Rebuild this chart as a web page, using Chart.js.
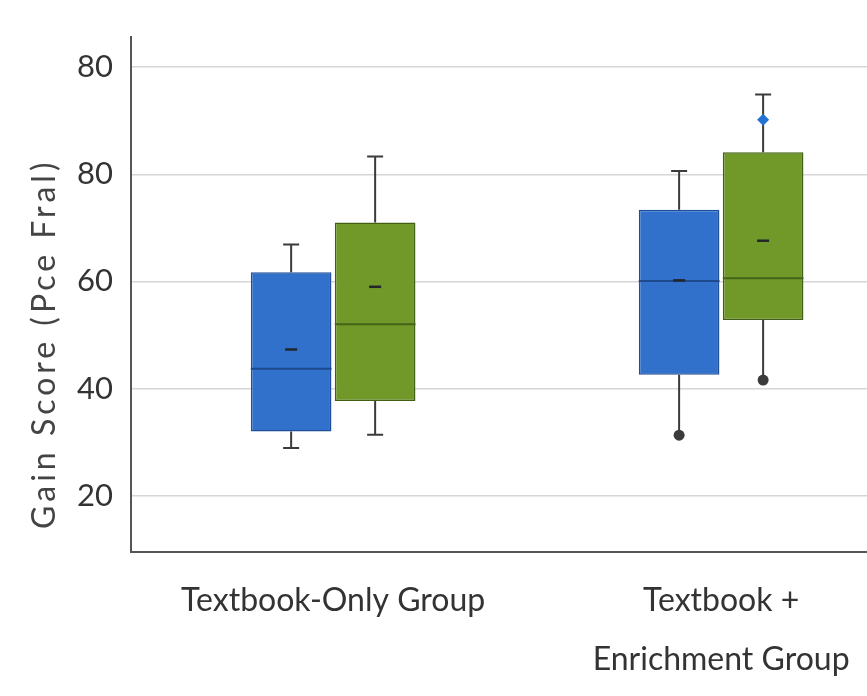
<!DOCTYPE html>
<html>
<head>
<meta charset="utf-8">
<script src="https://cdn.jsdelivr.net/npm/chart.js@4.4.1/dist/chart.umd.min.js"></script>
<style>
html, body { margin: 0; padding: 0; background: #fff; }
#wrap { width: 867px; height: 696px; position: relative; }
</style>
</head>
<body>
<div id="wrap"><canvas id="gainChart" width="867" height="696"></canvas></div>
<script>
// groups along x
const groupPositions = [1, 2];
const groupLabels = [['Textbook-Only Group'], ['Textbook +', 'Enrichment Group']];

// y ticks (top label reads 80 in the source picture)
const yTickValues = [20, 40, 60, 80, 100];
const yTickLabels = ['20', '40', '60', '80', '80'];
const yAxisTitle = 'Gain Score (Pce Fral)';

// blue boxes
const blueQ1 = [32.0, 42.6];
const blueMedian = [43.7, 60.1];
const blueQ3 = [61.7, 73.4];
const blueMean = [47.3, 60.2];
const blueWhiskerLow = [28.9, 31.3];
const blueWhiskerHigh = [66.9, 80.6];
const blueLowIsPoint = [false, true];
const blueOutliers = [[], []];

// green boxes
const greenQ1 = [37.7, 52.8];
const greenMedian = [52.0, 60.6];
const greenQ3 = [71.0, 84.1];
const greenMean = [59.0, 67.6];
const greenWhiskerLow = [31.4, 41.6];
const greenWhiskerHigh = [83.3, 94.9];
const greenLowIsPoint = [false, true];
const greenOutliers = [[], [90.2]];

function boxData(q1, q3) {
    return groupPositions.map((x, i) => ({ x: x, y: [q1[i], q3[i]] }));
}

// whiskers, medians, means and outlier points on top of the floating bars
const boxExtras = {
    id: 'boxExtras',
    afterDatasetsDraw(chart) {
        const ctx = chart.ctx;
        const yScale = chart.scales.y;
        chart.data.datasets.forEach((ds, di) => {
            const meta = chart.getDatasetMeta(di);
            const s = ds.stats;
            meta.data.forEach((bar, i) => {
                const cx = bar.x;
                const half = bar.width / 2;
                const yTop = yScale.getPixelForValue(ds.data[i].y[1]);
                const yBot = yScale.getPixelForValue(ds.data[i].y[0]);
                const yHi = yScale.getPixelForValue(s.hi[i]);
                const yLo = yScale.getPixelForValue(s.lo[i]);
                ctx.save();
                ctx.strokeStyle = '#3b3b3b';
                ctx.lineWidth = 2;
                ctx.beginPath();
                ctx.moveTo(cx, yTop); ctx.lineTo(cx, yHi);
                ctx.moveTo(cx - 8, yHi); ctx.lineTo(cx + 8, yHi);
                ctx.moveTo(cx, yBot); ctx.lineTo(cx, yLo);
                if (!s.lowPoint[i]) {
                    ctx.moveTo(cx - 8, yLo); ctx.lineTo(cx + 8, yLo);
                }
                ctx.stroke();
                if (s.lowPoint[i]) {
                    ctx.fillStyle = '#3b3b3b';
                    ctx.beginPath();
                    ctx.arc(cx, yLo, 5.5, 0, Math.PI * 2);
                    ctx.fill();
                }
                // median
                const yMed = yScale.getPixelForValue(s.median[i]);
                ctx.strokeStyle = s.medianColor;
                ctx.lineWidth = 2;
                ctx.beginPath();
                ctx.moveTo(cx - half, yMed); ctx.lineTo(cx + half, yMed);
                ctx.stroke();
                // mean
                const yMean = yScale.getPixelForValue(s.mean[i]);
                ctx.fillStyle = '#22262b';
                ctx.fillRect(cx - 6, yMean - 1.25, 12, 2.5);
                // outliers
                s.outliers[i].forEach(v => {
                    const py = yScale.getPixelForValue(v);
                    ctx.fillStyle = '#2371d3';
                    ctx.beginPath();
                    ctx.moveTo(cx, py - 6); ctx.lineTo(cx + 6, py);
                    ctx.lineTo(cx, py + 6); ctx.lineTo(cx - 6, py);
                    ctx.closePath();
                    ctx.fill();
                });
                ctx.restore();
            });
        });
    }
};

// y axis title, drawn by hand so it can sit a bit low like the source
const yTitlePlugin = {
    id: 'yTitlePlugin',
    afterDraw(chart) {
        const ctx = chart.ctx;
        const area = chart.chartArea;
        ctx.save();
        ctx.translate(45, area.top + (area.bottom - area.top) * 0.596);
        ctx.rotate(-Math.PI / 2);
        ctx.font = '32px Lato';
        ctx.letterSpacing = '4px';
        ctx.fillStyle = '#444';
        ctx.textAlign = 'center';
        ctx.textBaseline = 'middle';
        ctx.fillText(yAxisTitle, 0, 0);
        ctx.restore();
    }
};

Chart.defaults.font.family = 'Lato';

new Chart(document.getElementById('gainChart'), {
    type: 'bar',
    data: {
        datasets: [{
            label: 'Blue',
            data: boxData(blueQ1, blueQ3),
            backgroundColor: '#3171cc',
            borderColor: '#1f4f98',
            borderWidth: 1.5,
            borderSkipped: false,
            stats: { median: blueMedian, mean: blueMean, lo: blueWhiskerLow, hi: blueWhiskerHigh,
                     lowPoint: blueLowIsPoint, outliers: blueOutliers, medianColor: '#1d4a8c' }
        }, {
            label: 'Green',
            data: boxData(greenQ1, greenQ3),
            backgroundColor: '#71992a',
            borderColor: '#435f16',
            borderWidth: 1.5,
            borderSkipped: false,
            stats: { median: greenMedian, mean: greenMean, lo: greenWhiskerLow, hi: greenWhiskerHigh,
                     lowPoint: greenLowIsPoint, outliers: greenOutliers, medianColor: '#46631a' }
        }]
    },
    options: {
        responsive: false,
        animation: false,
        categoryPercentage: 0.433,
        barPercentage: 0.96,
        layout: { padding: { top: 32, left: 0, right: 0, bottom: 0 } },
        plugins: {
            legend: { display: false },
            tooltip: { enabled: false }
        },
        scales: {
            x: {
                type: 'linear',
                offset: false,
                min: 0.479,
                max: 2.376,
                afterBuildTicks: scale => { scale.ticks = groupPositions.map(v => ({ value: v })); },
                afterFit: scale => { scale.height = 144; },
                grid: { display: false },
                border: { display: true, color: '#555', width: 2 },
                ticks: {
                    callback: value => groupLabels[groupPositions.indexOf(value)],
                    font: { size: 32, lineHeight: 1.84 },
                    color: '#333',
                    padding: 11,
                    maxRotation: 0,
                    autoSkip: false
                }
            },
            y: {
                min: 9.5,
                max: 105.7,
                afterBuildTicks: scale => { scale.ticks = yTickValues.map(v => ({ value: v })); },
                afterFit: scale => { scale.width = 131; },
                grid: { color: '#d6d6d6', lineWidth: 1.5, drawTicks: false },
                border: { color: '#555', width: 2 },
                ticks: {
                    callback: value => yTickLabels[yTickValues.indexOf(value)],
                    font: { size: 31 },
                    color: '#333',
                    padding: 18
                }
            }
        }
    },
    plugins: [boxExtras, yTitlePlugin]
});
</script>
</body>
</html>
